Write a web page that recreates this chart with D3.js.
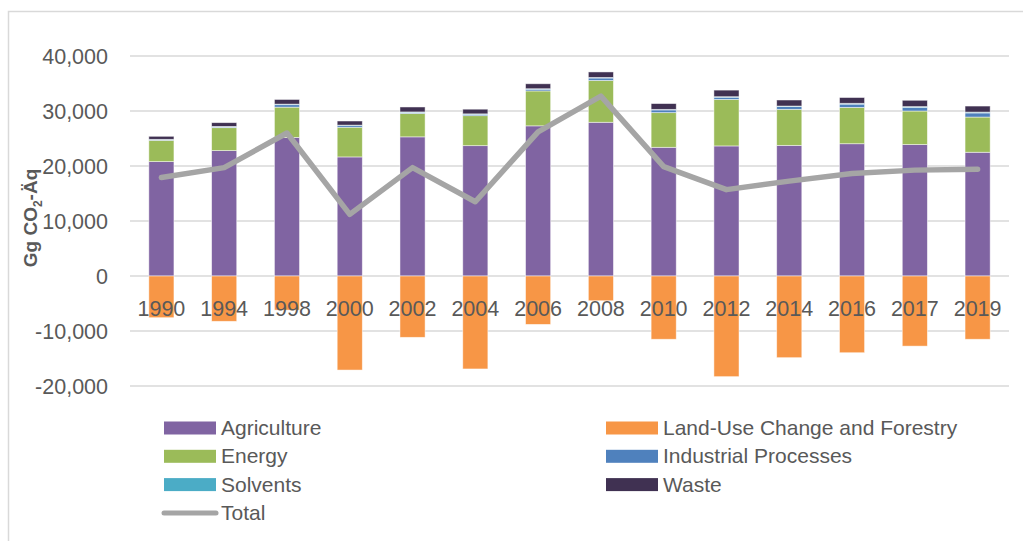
<!doctype html>
<html>
<head>
<meta charset="utf-8">
<title>GHG emissions by sector</title>
<script src="https://cdn.jsdelivr.net/npm/d3@7"></script>
<style>
  body { margin: 0; background: #fff; }
  svg { display: block; font-family: "Liberation Sans", Arial, sans-serif; }
</style>
</head>
<body>
<div id="chart-area"></div>
<script>
// values (Gg CO2-eq)
var years       = ["1990","1994","1998","2000","2002","2004","2006","2008","2010","2012","2014","2016","2017","2019"];
var agriculture = [20800, 22800, 25200, 21650, 25300, 23700, 27300, 27950, 23400, 23650, 23750, 24050, 23900, 22500];
var lucf        = [-7580, -8240, -6200, -17100, -11150, -16900, -8800, -4500, -11500, -18300, -14850, -13950, -12750, -11500];
var energy      = [3870, 4170, 5500, 5400, 4250, 5450, 6350, 7600, 6300, 8450, 6550, 6600, 6100, 6400];
var industrial  = [100, 150, 450, 300, 200, 250, 300, 450, 500, 400, 500, 600, 650, 750];
var solvents    = [80, 80, 100, 80, 80, 80, 100, 100, 100, 100, 100, 150, 150, 150];
var waste       = [550, 680, 850, 750, 900, 850, 900, 1000, 1050, 1200, 1100, 1050, 1150, 1100];
var total       = [17900, 19700, 26000, 11200, 19700, 13500, 26200, 32700, 19900, 15700, 17250, 18650, 19250, 19400];
var yTicks      = [-20000, -10000, 0, 10000, 20000, 30000, 40000];

var series = [
    { name: "Agriculture", values: agriculture, color: "#8064A2" },
    { name: "Land-Use Change and Forestry", values: lucf, color: "#F79646" },
    { name: "Energy", values: energy, color: "#9BBB59" },
    { name: "Industrial Processes", values: industrial, color: "#4F81BD" },
    { name: "Solvents", values: solvents, color: "#4BACC6" },
    { name: "Waste", values: waste, color: "#403152" }
];

var W = 1023, H = 541;
var plot = { left: 130, right: 1009, top: 56, bottom: 386 };
var textColor = "#595959";

var svg = d3.select("#chart-area").append("svg").attr("width", W).attr("height", H);

// chart frame (only top and left edges are visible in the crop)
svg.append("path").attr("d", "M8.5," + H + "V11.5H" + W)
    .attr("fill", "none").attr("stroke", "#D9D9D9").attr("stroke-width", 1.5);

// Scales
var x = d3.scaleBand().domain(years).range([plot.left, plot.right]).paddingInner(0.6).paddingOuter(0.3);
var y = d3.scaleLinear().domain([-20000, 40000]).range([plot.bottom, plot.top]);

// Gridlines + y labels (plain hyphen for negatives, like the source)
var fmt = function(d){ return d3.format(",")(d).replace("\u2212", "-"); };
var yAxis = svg.append("g");
yAxis.selectAll("line").data(yTicks).enter().append("line")
    .attr("x1", plot.left).attr("x2", plot.right)
    .attr("y1", function(d){ return y(d); }).attr("y2", function(d){ return y(d); })
    .attr("stroke", "#D9D9D9").attr("stroke-width", 1.5);
yAxis.selectAll("text").data(yTicks).enter().append("text")
    .attr("x", 108).attr("y", function(d){ return y(d) + 7.5; })
    .attr("text-anchor", "end").attr("font-size", "21.5px").attr("fill", textColor)
    .text(fmt);

// stacked bars: positives stack upward, negatives downward
var stackData = years.map(function(yr, i){
    var pos = 0, neg = 0;
    return series.map(function(s){
        var v = s.values[i], y0, y1;
        if (v >= 0) { y0 = pos; pos += v; y1 = pos; }
        else { y0 = neg; neg += v; y1 = neg; }
        return { year: yr, y0: y0, y1: y1, color: s.color };
    });
});

var bars = svg.append("g");
stackData.forEach(function(segs){
    bars.selectAll(null).data(segs).enter().append("rect")
        .attr("x", function(d){ return x(d.year); })
        .attr("width", x.bandwidth())
        .attr("y", function(d){ return y(Math.max(d.y0, d.y1)); })
        .attr("height", function(d){ return Math.abs(y(d.y0) - y(d.y1)); })
        .attr("fill", function(d){ return d.color; })
        .attr("stroke", "#fff").attr("stroke-opacity", 0.6).attr("stroke-width", 0.8);
});

// category labels sit just under the zero line
svg.append("g").selectAll("text").data(years).enter().append("text")
    .attr("x", function(d){ return x(d) + x.bandwidth() / 2; })
    .attr("y", 316)
    .attr("text-anchor", "middle").attr("font-size", "21.5px").attr("fill", textColor)
    .text(function(d){ return d; });

// Total line
var line = d3.line()
    .x(function(d, i){ return x(years[i]) + x.bandwidth() / 2; })
    .y(function(d){ return y(d); });
svg.append("path").datum(total).attr("d", line)
    .attr("fill", "none").attr("stroke", "#A5A5A5").attr("stroke-width", 5.5)
    .attr("stroke-linejoin", "round").attr("stroke-linecap", "round");

// Y title
var yTitle = svg.append("text")
    .attr("transform", "translate(37,218) rotate(-90)")
    .attr("text-anchor", "middle").attr("font-size", "19px").attr("font-weight", "bold").attr("fill", textColor);
yTitle.append("tspan").text("Gg CO");
yTitle.append("tspan").attr("font-size", "12px").attr("dy", 5).text("2");
yTitle.append("tspan").attr("dy", -5).text("-Äq");

// Legend: two columns, row by row
var legendItems = series.map(function(s){ return { name: s.name, color: s.color, type: "rect" }; });
legendItems.push({ name: "Total", color: "#A5A5A5", type: "line" });

var legend = svg.append("g");
legendItems.forEach(function(item, i){
    var col = i % 2, row = Math.floor(i / 2);
    var lx = col === 0 ? 164 : 606;
    var cy = 428 + row * 28.3;
    var g = legend.append("g");
    if (item.type === "rect") {
        g.append("rect").attr("x", lx).attr("y", cy - 6.5).attr("width", 52).attr("height", 13).attr("fill", item.color);
    } else {
        g.append("line").attr("x1", lx).attr("x2", lx + 52).attr("y1", cy).attr("y2", cy)
            .attr("stroke", item.color).attr("stroke-width", 5).attr("stroke-linecap", "round");
    }
    g.append("text").attr("x", lx + 57).attr("y", cy + 7)
        .attr("font-size", "21px").attr("fill", textColor).text(item.name);
});
</script>
</body>
</html>
